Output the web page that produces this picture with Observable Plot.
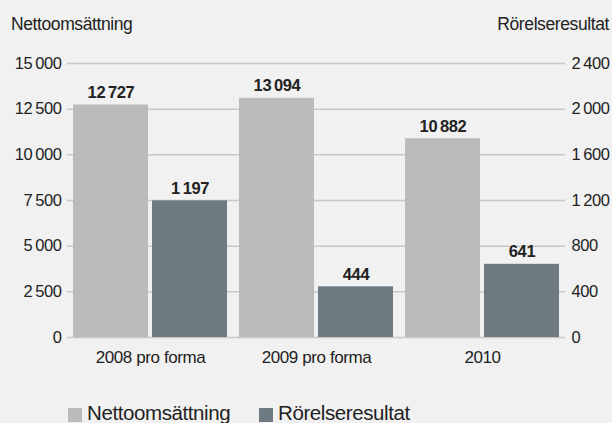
<!DOCTYPE html>
<html>
<head>
<meta charset="utf-8">
<script src="https://cdn.jsdelivr.net/npm/d3@7"></script>
<script src="https://cdn.jsdelivr.net/npm/@observablehq/plot@0.6"></script>
<style>
  html, body { margin: 0; padding: 0; background: #f1f1f1; }
  #wrap { position: relative; width: 612px; height: 423px; background: #f1f1f1; overflow: hidden;
          font-family: "Liberation Sans", Arial, sans-serif; color: #222; }
  .lab { position: absolute; white-space: nowrap; line-height: 1; letter-spacing: -0.4px; }
  #chart { position: absolute; left: 0; top: 40px; }
  .sw { position: absolute; width: 14px; height: 14px; }
</style>
</head>
<body>
<div id="wrap">
  <div class="lab" id="tl" style="left:11px; top:16px; font-size:17.5px;"></div>
  <div class="lab" id="tr" style="right:3px; top:16px; font-size:17.5px;"></div>
  <div id="chart"></div>
  <div id="legend"></div>
</div>
<script>
const years = ["2008 pro forma", "2009 pro forma", "2010"];
const netto = [12727, 13094, 10882];
const rorelse = [1197, 444, 641];
const seriesNames = ["Nettoomsättning", "Rörelseresultat"];
const seriesColors = ["#bbbbbb", "#6e7a82"];
const leftTicks = [0, 2500, 5000, 7500, 10000, 12500, 15000];
const rightTicks = [0, 400, 800, 1200, 1600, 2000, 2400];
const leftMax = 15000;
const rightMax = 2400;

const k = leftMax / rightMax;
const fmt = d => d3.format(",")(d).replace(/,/g, "\u2009");

const data = years.flatMap((y, i) => [
  {year: y, series: seriesNames[0], value: netto[i], plotted: netto[i]},
  {year: y, series: seriesNames[1], value: rorelse[i], plotted: rorelse[i] * k}
]);

document.getElementById("tl").textContent = seriesNames[0];
document.getElementById("tr").textContent = seriesNames[1];

const chart = Plot.plot({
  width: 612,
  height: 333,
  marginTop: 23,
  marginLeft: 67,
  marginRight: 47,
  marginBottom: 36,
  style: {background: "transparent", fontFamily: "Liberation Sans, Arial, sans-serif", fontSize: "16.5px", color: "#222", letterSpacing: "-0.4px"},
  fx: {domain: years, padding: 0, label: null},
  x: {domain: seriesNames, paddingInner: 0.05, paddingOuter: 0.066, axis: null},
  y: {domain: [0, leftMax], axis: null},
  color: {domain: seriesNames, range: seriesColors},
  marks: [
    Plot.ruleY(leftTicks, {stroke: "#c8c8c8", strokeWidth: 1.5}),
    Plot.barY(data, {fx: "year", x: "series", y: "plotted", fill: "series"}),
    Plot.text(data, {fx: "year", x: "series", y: "plotted", text: d => fmt(d.value), dy: -7, lineAnchor: "bottom", fontWeight: "bold", fontSize: 16.5, fill: "#222"}),
    Plot.axisY(leftTicks, {anchor: "left", tickSize: 0, tickPadding: 6, tickFormat: fmt, label: null, fontSize: 16.5}),
    Plot.axisY(rightTicks.map(d => d * k), {anchor: "right", tickSize: 0, tickPadding: 6, tickFormat: d => fmt(Math.round(d / k)), label: null, fontSize: 16.5}),
    Plot.axisFx({anchor: "bottom", tickSize: 0, tickPadding: 13, label: null, fontSize: 17})
  ]
});
document.getElementById("chart").appendChild(chart);

const legend = document.getElementById("legend");
const legendX = [68, 259];
seriesNames.forEach((name, i) => {
  const sw = document.createElement("div");
  sw.className = "sw";
  sw.style.left = legendX[i] + "px";
  sw.style.top = "408px";
  sw.style.background = seriesColors[i];
  legend.appendChild(sw);
  const t = document.createElement("div");
  t.className = "lab";
  t.style.left = (legendX[i] + 19) + "px";
  t.style.top = "403px";
  t.style.fontSize = "20.5px";
  t.textContent = name;
  legend.appendChild(t);
});
</script>
</body>
</html>
